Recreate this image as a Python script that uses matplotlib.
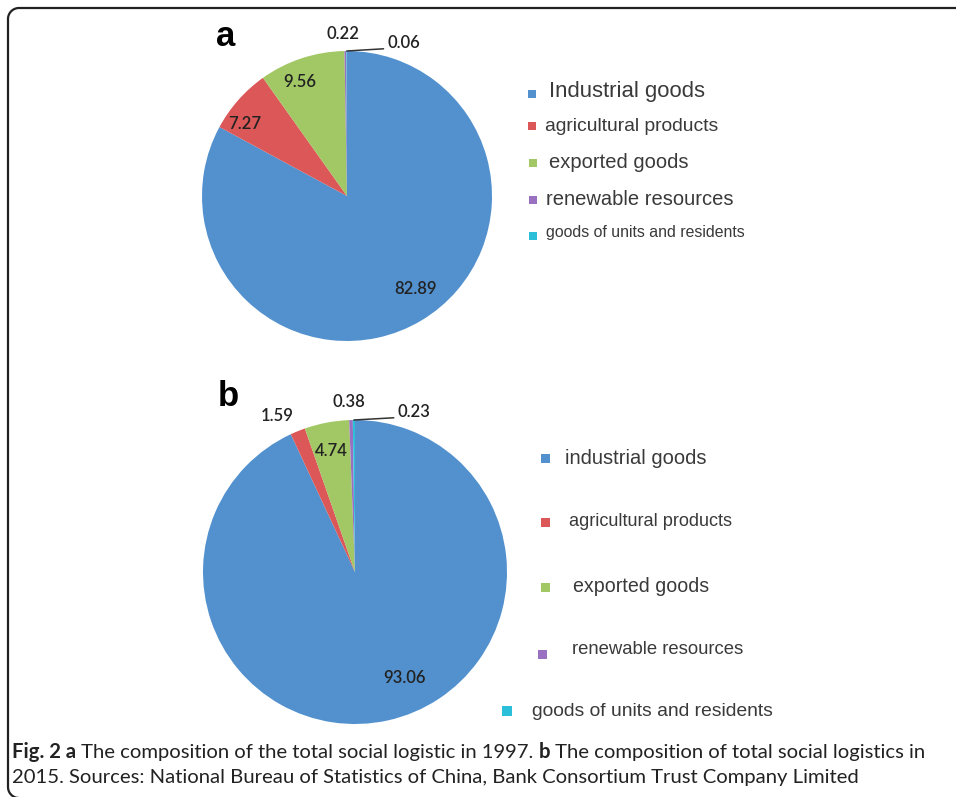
import numpy as np
import matplotlib
matplotlib.use("Agg")
import matplotlib.pyplot as plt

# data
names_a = ["Industrial goods", "agricultural products", "exported goods",
           "renewable resources", "goods of units and residents"]
names_b = ["industrial goods", "agricultural products", "exported goods",
           "renewable resources", "goods of units and residents"]
share_1997 = [82.89, 7.27, 9.56, 0.22, 0.06]
share_2015 = [93.06, 1.59, 4.74, 0.38, 0.23]
labels_1997 = ["82.89", "7.27", "9.56", "0.22", "0.06"]
labels_2015 = ["93.06", "1.59", "4.74", "0.38", "0.23"]

colors = ["#5291CE", "#DC5757", "#A2C865", "#9A70C0", "#2BBFD9"]

W, H = 956, 797
fig = plt.figure(figsize=(W / 100, H / 100), dpi=100)
fig.patch.set_facecolor("white")

# overlay axes in pixel units for frame, legends and caption
bg = fig.add_axes([0, 0, 1, 1])
bg.set_xlim(0, W)
bg.set_ylim(H, 0)
bg.axis("off")

# open frame: top edge and left edge with rounded corners
rc = 11
t1 = np.linspace(np.pi / 2, np.pi, 20)
t2 = np.linspace(np.pi, 1.5 * np.pi, 20)
fx = np.concatenate([[W + 5], 8 + rc + rc * np.cos(t1), 8 + rc + rc * np.cos(t2)])
fy = np.concatenate([[8], 8 + rc - rc * np.sin(t1), 787 - rc * np.sin(t2)])
bg.plot(fx, fy, color="#222222", lw=1.6, solid_capstyle="butt", clip_on=False)


def pie_axes(cx, cy, r):
    ax = fig.add_axes([(cx - r) / W, 1 - (cy + r) / H, 2 * r / W, 2 * r / H])
    return ax


def draw_pie(ax, vals, labels, place):
    wedges, _ = ax.pie(vals, colors=colors, startangle=90, counterclock=False,
                       radius=1, wedgeprops=dict(lw=0))
    ax.set_xlim(-1, 1)
    ax.set_ylim(-1, 1)
    ax.axis("off")
    for w, txt, (d, ox, oy, lead) in zip(wedges, labels, place):
        a = np.deg2rad((w.theta1 + w.theta2) / 2)
        if lead:
            ax.annotate(txt, (np.cos(a), np.sin(a)), xytext=(ox, oy),
                        textcoords="offset points", ha="left", va="center",
                        fontsize=12, family="Lato", fontweight="semibold",
                        color="#222222", annotation_clip=False,
                        arrowprops=dict(arrowstyle="-", color="#333333", lw=1.1,
                                        shrinkA=1, shrinkB=0, relpos=(0, 0.15)))
        else:
            ax.annotate(txt, (d * np.cos(a), d * np.sin(a)), xytext=(ox, oy),
                        textcoords="offset points", ha="center", va="center",
                        fontsize=12, family="Lato", fontweight="semibold",
                        color="#222222", annotation_clip=False)


# (distance, x offset pt, y offset pt, leader line)
place_a = [(0.80, 6.5, 5.0, False), (0.86, -6.2, -7.6, False),
           (0.85, -6.0, -2.0, False), (1.12, -1.5, 0.0, False),
           (1.0, 29.5, 5.8, True)]
place_b = [(0.75, 18.0, 3.6, False), (1.13, -9.6, -2.3, False),
           (0.82, -0.5, -1.0, False), (1.12, -1.0, 0.0, False),
           (1.0, 31.7, 5.8, True)]

ax_a = pie_axes(347, 196, 145)
draw_pie(ax_a, share_1997, labels_1997, place_a)
ax_b = pie_axes(355, 572, 152)
draw_pie(ax_b, share_2015, labels_2015, place_b)

bg.text(226, 36, "a", fontsize=25, fontweight="bold", family="Liberation Sans",
        ha="center", va="center", color="black")
bg.text(228, 396, "b", fontsize=25, fontweight="bold", family="Liberation Sans",
        ha="center", va="center", color="black")

# legends (marker x, marker y, marker size px, text x, text y, font size)
leg_a = [(532, 94, 8, 549, 91, 15.9), (532, 126, 8, 545, 126, 13.9),
         (533, 163, 8, 549, 162, 14.5), (533, 200, 8, 546, 199, 14.5),
         (533, 236, 8, 546, 232, 11.4)]
leg_b = [(546, 458, 9, 565, 458, 14.5), (546, 522, 9, 569, 521, 13.1),
         (546, 587, 9, 573, 587, 14.1), (543, 654, 9, 572, 649, 13.3),
         (507, 711, 10, 532, 712, 13.9)]
for names, leg in ((names_a, leg_a), (names_b, leg_b)):
    for name, col, (mx, my, ms, tx, ty, fs) in zip(names, colors, leg):
        bg.add_patch(plt.Rectangle((mx - ms / 2, my - ms / 2), ms, ms,
                                   fc=col, ec="none"))
        bg.text(tx, ty, name, fontsize=fs, family="Liberation Sans",
                color="#3a3a3a", ha="left", va="center")

# caption with mixed weights
fig.canvas.draw()
renderer = fig.canvas.get_renderer()


def runs(x, y, parts, fs=14.6):
    for s, bold in parts:
        t = bg.text(x, y, s, fontsize=fs, family="Lato",
                    fontweight="bold" if bold else "normal",
                    color="#222222", ha="left", va="baseline")
        bb = t.get_window_extent(renderer)
        x = x + bb.width


runs(12, 758, [("Fig. 2 a", True),
               (" The composition of the total social logistic in 1997. ", False),
               ("b", True),
               (" The composition of total social logistics in", False)])
runs(12, 783, [("2015. Sources: National Bureau of Statistics of China, "
                "Bank Consortium Trust Company Limited", False)])

fig.savefig("out.png", dpi=100)
